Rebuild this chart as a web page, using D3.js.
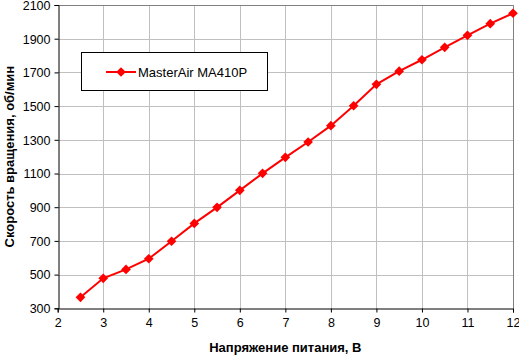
<!DOCTYPE html>
<html><head><meta charset="utf-8">
<script src="https://cdn.jsdelivr.net/npm/d3@7"></script>
<style>body{margin:0;background:#fff}svg{display:block}text{font-family:"Liberation Sans",Arial,sans-serif}</style>
</head><body>
<svg id="c" width="519" height="357"></svg>
<script>
const voltages = [2.5,3,3.5,4,4.5,5,5.5,6,6.5,7,7.5,8,8.5,9,9.5,10,10.5,11,11.5,12];
const rpm = [365,478,531,594,698,804,899,1000,1101,1196,1287,1384,1502,1629,1707,1775,1849,1920,1989,2051];
const xTicks = [2,3,4,5,6,7,8,9,10,11,12];
const yTicks = [300,500,700,900,1100,1300,1500,1700,1900,2100];
const seriesName = "MasterAir MA410P";
const xTitle = "Напряжение питания, В";
const yTitle = "Скорость вращения, об/мин";

const svg = d3.select("#c");
const L = 57.7, R = 513, T = 5, B = 308.3;
const x = d3.scaleLinear().domain([2,12]).range([L,R]);
const y = d3.scaleLinear().domain([300,2100]).range([B,T]);

// grid
svg.append("g").selectAll("line").data(xTicks.slice(1)).join("line")
  .attr("x1",d=>Math.round(x(d))+0.5).attr("x2",d=>Math.round(x(d))+0.5)
  .attr("y1",T).attr("y2",B).attr("stroke","#c0c0c0").attr("stroke-width",1);
svg.append("g").selectAll("line").data(yTicks.slice(1)).join("line")
  .attr("y1",d=>Math.round(y(d))+0.5).attr("y2",d=>Math.round(y(d))+0.5)
  .attr("x1",L).attr("x2",R).attr("stroke","#c0c0c0").attr("stroke-width",1);
// top/right border
svg.append("path").attr("d",`M${L},${Math.round(T)+0.5}H${Math.round(R)+0.5}V${B}`)
  .attr("fill","none").attr("stroke","#808080");

// axes
const xAxis = svg.append("g").attr("transform",`translate(0,${Math.round(B)+0.5})`)
  .call(d3.axisBottom(x).tickValues(xTicks).tickFormat(d3.format("d")).tickSizeOuter(0).tickSize(4).tickPadding(6));
const yAxis = svg.append("g").attr("transform",`translate(${Math.round(L)+0.5},0)`)
  .call(d3.axisLeft(y).tickValues(yTicks).tickFormat(d3.format("d")).tickSizeOuter(0).tickSize(4).tickPadding(4));
[xAxis,yAxis].forEach(g=>{
  g.select(".domain").attr("stroke","#000");
  g.selectAll(".tick line").attr("stroke","#000");
  g.selectAll("text").attr("font-size",12.5).attr("fill","#000").attr("font-family","Liberation Sans, Arial, sans-serif");
});
yAxis.selectAll("text").attr("dy","0.35em");

// line
const line = d3.line().x((d,i)=>x(voltages[i])).y(d=>y(d));
svg.append("path").datum(rpm).attr("d",line).attr("fill","none").attr("stroke","#ff0000").attr("stroke-width",2);
const diamond = d3.symbol().type(d3.symbolDiamond2).size(60);
svg.append("g").selectAll("path").data(rpm).join("path")
  .attr("transform",(d,i)=>`translate(${x(voltages[i])},${y(d)})`)
  .attr("d",diamond).attr("fill","#ff0000");

// legend
const lg = svg.append("g");
lg.append("rect").attr("x",81.5).attr("y",52.5).attr("width",186).attr("height",38)
  .attr("fill","#fff").attr("stroke","#000");
lg.append("line").attr("x1",106).attr("x2",136).attr("y1",72).attr("y2",72).attr("stroke","#ff0000").attr("stroke-width",2);
lg.append("path").attr("transform","translate(121,72)").attr("d",diamond).attr("fill","#ff0000");
lg.append("text").attr("x",138).attr("y",76.5).attr("font-size",13).text(seriesName);

// titles
svg.append("text").attr("x",(L+R)/2).attr("y",352).attr("text-anchor","middle")
  .attr("font-size",13).attr("font-weight","bold").text(xTitle);
svg.append("text").attr("transform",`translate(14,${(T+B)/2}) rotate(-90)`).attr("text-anchor","middle")
  .attr("font-size",13).attr("font-weight","bold").text(yTitle);
</script>
</body></html>
